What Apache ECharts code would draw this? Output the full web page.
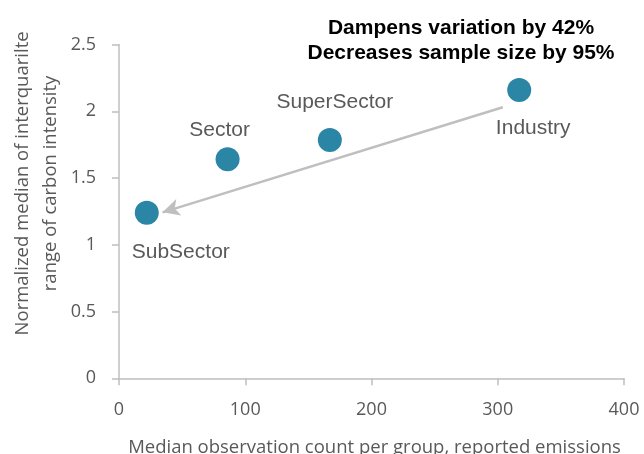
<!DOCTYPE html>
<html>
<head>
<meta charset="utf-8">
<script src="https://cdn.jsdelivr.net/npm/echarts@6/dist/echarts.min.js"></script>
<style>
  html, body { margin: 0; padding: 0; background: #fff; }
  #chart { width: 644px; height: 454px; }
</style>
</head>
<body>
<div id="chart"></div>
<script>
  // data
  var groups = ['SubSector', 'Sector', 'SuperSector', 'Industry']
  var obsCount = [22, 86, 167, 317]
  var iqrMedian = [1.24, 1.64, 1.785, 2.16]
  var xTicks = [0, 100, 200, 300, 400]
  var yTicks = [0, 0.5, 1, 1.5, 2, 2.5]
  var arrowFrom = [304, 2.03]
  var arrowTo = [34.5, 1.243]

  // label placement, relative to the point centre
  var labelOffset = {
    SubSector: [34, 39],
    Sector: [-8, -29],
    SuperSector: [5, -38],
    Industry: [14, 38]
  }

  var points = groups.map(function (g, i) {
    return {
      name: g,
      value: [obsCount[i], iqrMedian[i]],
      label: { position: 'inside', offset: labelOffset[g] }
    }
  })

  var myChart = echarts.init(document.getElementById('chart'))
  var option = {
    animation: false,
    grid: {
      left: 119,
      right: 20,
      top: 44.5,
      bottom: 75.7,
      outerBoundsMode: 'none',
      containLabel: false
    },
    title: {
      text: 'Dampens variation by 42%\nDecreases sample size by 95%',
      left: 456,
      top: 11,
      textAlign: 'center',
      textStyle: {
        fontFamily: 'Liberation Sans',
        fontSize: 21,
        fontWeight: 'bold',
        color: '#000',
        lineHeight: 25,
        align: 'center'
      }
    },
    xAxis: {
      type: 'value',
      min: xTicks[0],
      max: xTicks[xTicks.length - 1],
      interval: 100,
      name: 'Median observation count per group, reported emissions',
      nameLocation: 'middle',
      nameGap: 60,
      nameMoveOverlap: false,
      nameTextStyle: {
        fontFamily: 'Open Sans',
        fontSize: 18.5,
        color: '#595959',
        padding: [0, 0, 0, 6]
      },
      axisLine: { show: true, lineStyle: { color: '#BFBFBF', width: 1.5 } },
      axisTick: { show: true, length: 7, lineStyle: { color: '#BFBFBF', width: 1.5 } },
      splitLine: { show: false },
      axisLabel: {
        fontFamily: 'Open Sans',
        fontSize: 18,
        color: '#595959',
        margin: 23
      }
    },
    yAxis: {
      type: 'value',
      min: yTicks[0],
      max: yTicks[yTicks.length - 1],
      interval: 0.5,
      name: 'Normalized median of interquarilte\nrange of carbon intensity',
      nameLocation: 'middle',
      nameGap: 54,
      nameMoveOverlap: false,
      nameTextStyle: {
        fontFamily: 'Open Sans',
        fontSize: 18.5,
        color: '#595959',
        lineHeight: 28,
        // lift the title above the axis centre, as in the picture
        padding: [0, 0, 0, 56]
      },
      axisLine: { show: true, lineStyle: { color: '#BFBFBF', width: 1.5 } },
      axisTick: { show: true, length: 7, lineStyle: { color: '#BFBFBF', width: 1.5 } },
      splitLine: { show: false },
      axisLabel: {
        fontFamily: 'Open Sans',
        fontSize: 18,
        color: '#595959',
        margin: 23
      }
    },
    series: [{
      type: 'scatter',
      data: points,
      symbol: 'circle',
      symbolSize: 24,
      itemStyle: { color: '#2A86A4', opacity: 1 },
      label: {
        show: true,
        formatter: '{b}',
        fontFamily: 'Liberation Sans',
        fontSize: 21,
        color: '#595959'
      },
      markLine: {
        silent: true,
        symbol: ['none', 'arrow'],
        symbolSize: [13, 17],
        label: { show: false },
        lineStyle: { color: '#BFBFBF', width: 2.5, type: 'solid' },
        data: [[{ coord: arrowFrom }, { coord: arrowTo }]]
      }
    }]
  }
  myChart.setOption(option)
  window.addEventListener('resize', myChart.resize)
</script>
</body>
</html>
